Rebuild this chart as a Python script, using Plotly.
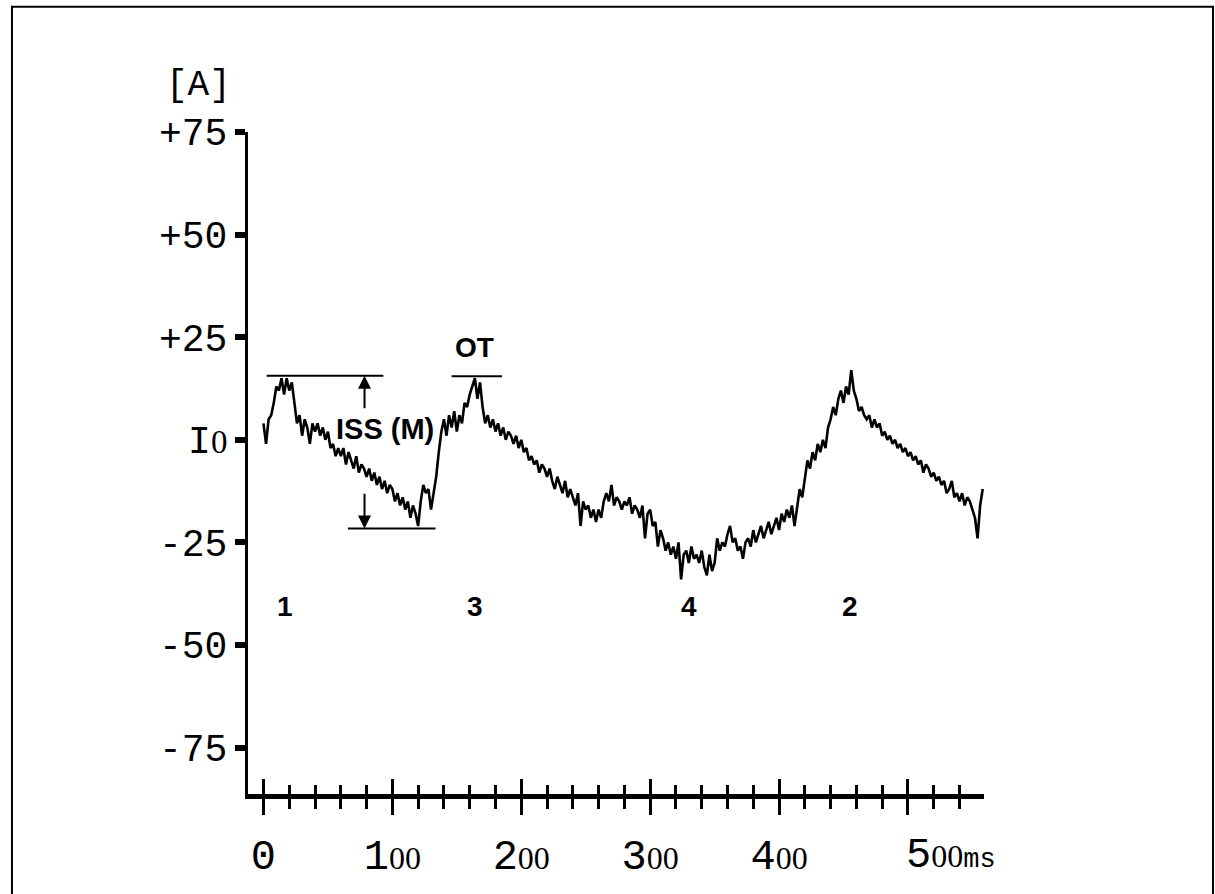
import plotly.graph_objects as go

# ---------------- data ----------------
time_ms = list(range(0, 560, 2))
current_a = [
    4, -1, 5, 6, 9, 13, 12, 15, 11, 15,
    12, 14, 9, 4, 6, 1, 5, 3, -1, 4,
    2, 4, 1, 3, 0, 2, -2, -1, -4, -2,
    -4, -2, -6, -3, -5, -7, -4, -8, -6, -7,
    -9, -7, -10, -8, -11, -9, -12, -10, -13, -11,
    -12, -15, -13, -16, -14, -17, -15, -19, -16, -18,
    -21, -15, -11, -13, -12, -17, -13, -9, -3, 2,
    5, 1, 6, 3, 7, 2, 6, 4, 9, 8,
    11, 13, 15, 10, 14, 8, 4, 6, 3, 5,
    2, 4, 1, 3, 0, 2, 1, -1, 1, -2,
    0, -3, -2, -5, -4, -6, -5, -8, -6, -7,
    -9, -7, -10, -12, -9, -11, -13, -10, -14, -12,
    -14, -16, -13, -21, -15, -17, -16, -19, -17, -20,
    -17, -19, -15, -13, -15, -11, -16, -14, -15, -17,
    -15, -16, -14, -18, -16, -17, -19, -16, -24, -18,
    -17, -21, -20, -26, -22, -24, -27, -25, -28, -26,
    -29, -25, -34, -28, -27, -30, -26, -29, -28, -30,
    -27, -31, -33, -28, -32, -30, -24, -27, -25, -26,
    -23, -21, -25, -24, -27, -26, -29, -25, -24, -26,
    -22, -25, -23, -21, -24, -22, -20, -23, -21, -19,
    -22, -18, -20, -17, -19, -16, -21, -17, -12, -14,
    -9, -5, -7, -3, -5, -1, -3, 0, -2, 3,
    5, 8, 6, 10, 12, 9, 13, 11, 17, 12,
    10, 7, 8, 6, 5, 6, 3, 5, 3, 4,
    1, 2, 0, 1, -1, 0, -2, -1, -3, -2,
    -4, -3, -5, -4, -6, -5, -8, -6, -7, -9,
    -8, -10, -9, -11, -10, -13, -12, -10, -14, -13,
    -15, -13, -16, -14, -15, -17, -19, -24, -16, -12,
]

y_tickvals = [75, 50, 25, 0, -25, -50, -75]
y_ticktext = ["+75", "+50", "+25",
              "I<span style='font-family:Liberation Sans Narrow;font-size:33px'>0</span>",
              "-25", "-50", "-75"]
x_tickvals = [0, 100, 200, 300, 400, 500]
x_big = ["0", "1", "2", "3", "4", "5"]
x_small = ["", "00", "00", "00", "00", "00"]
x_unit = "ms"

# phase markers
phase_labels = ["1", "3", "4", "2"]
phase_times = [17, 164, 330, 455]
phase_level = -40.5

# ISS (M) measurement and OT marker
iss_top_level = 15.6
iss_top_span = [2.5, 93]
iss_bottom_level = -21.6
iss_bottom_span = [65.5, 133.5]
iss_arrow_time = 78.4
iss_arrow_tails = [7.3, -12.8]
iss_label_pos = [94, 2.6]
ot_level = 15.5
ot_span = [146, 185]
ot_label_pos = [164, 22.5]

# ---------------- figure ----------------
MONO = "Liberation Mono"
NARROW = "Liberation Sans Narrow"
small_style = "font-family:%s;font-size:32px" % NARROW

x_ticktext = []
for big, small in zip(x_big, x_small):
    t = big
    if small:
        t += "<span style='%s'>%s</span>" % (small_style, small)
    x_ticktext.append(t)
# last label is drawn with its unit as an annotation (left aligned at its tick)
x_ticktext[-1] = ""

fig = go.Figure()
fig.add_trace(go.Scatter(
    x=time_ms, y=current_a, mode="lines",
    line=dict(color="black", width=2.6),
    hoverinfo="skip", showlegend=False,
))
# helper trace so the overlaying axis (inner half of the crossing ticks) is drawn
fig.add_trace(go.Scatter(
    x=[time_ms[0]], y=[current_a[0]], xaxis="x2", mode="markers",
    marker=dict(opacity=0), hoverinfo="skip", showlegend=False,
))

x_range = [-12, 559]
fig.update_layout(
    width=1215, height=894, autosize=False,
    margin=dict(l=248, r=231, t=132, b=91),
    paper_bgcolor="white", plot_bgcolor="white",
    showlegend=False,
    xaxis=dict(
        range=x_range, showgrid=False, zeroline=False,
        showline=True, linecolor="black", linewidth=5,
        tickmode="array", tickvals=x_tickvals, ticktext=x_ticktext,
        ticks="outside", ticklen=16, tickwidth=2.5, tickcolor="black",
        minor=dict(dtick=20, tick0=0, ticks="outside", ticklen=10,
                   tickwidth=2.5, tickcolor="black", showgrid=False),
        tickfont=dict(family=MONO, size=42, color="black"),
        ticklabelstandoff=4,
    ),
    xaxis2=dict(
        range=x_range, overlaying="x", side="bottom", anchor="y",
        showgrid=False, zeroline=False, showline=False,
        tickmode="array", tickvals=x_tickvals, showticklabels=False,
        ticks="inside", ticklen=15, tickwidth=2.5, tickcolor="black",
        minor=dict(dtick=20, tick0=0, ticks="inside", ticklen=9,
                   tickwidth=2.5, tickcolor="black", showgrid=False),
    ),
    yaxis=dict(
        range=[-86.3, 75], showgrid=False, zeroline=False,
        showline=True, linecolor="black", linewidth=3,
        tickmode="array", tickvals=y_tickvals, ticktext=y_ticktext,
        ticks="outside", ticklen=10, tickwidth=6, tickcolor="black",
        tickfont=dict(family=MONO, size=38, color="black"),
    ),
)

# unit title
fig.add_annotation(
    text="[A]", xref="paper", yref="paper", x=-0.114, y=1.07,
    xanchor="left", yanchor="middle", showarrow=False,
    font=dict(family=MONO, size=36, color="black"),
)
# last x tick label with unit
fig.add_annotation(
    text=x_big[-1] + "<span style='%s'>%s</span><span style='font-family:%s;font-size:27px'>%s</span>"
    % (small_style, x_small[-1], MONO, x_unit),
    xref="x", yref="paper", x=x_tickvals[-1], y=-0.094,
    xanchor="left", yanchor="middle", showarrow=False, xshift=-4,
    font=dict(family=MONO, size=42, color="black"),
)

bold = dict(family="Liberation Sans", size=28, color="black", weight="bold")
for lab, t in zip(phase_labels, phase_times):
    fig.add_annotation(text="<b>%s</b>" % lab, x=t, y=phase_level,
                       showarrow=False, font=bold)
fig.add_annotation(text="<b>ISS (M)</b>", x=iss_label_pos[0], y=iss_label_pos[1],
                   showarrow=False, font=dict(bold, size=29))
fig.add_annotation(text="<b>OT</b>", x=ot_label_pos[0], y=ot_label_pos[1],
                   showarrow=False, font=bold)

for lvl, span in [(iss_top_level, iss_top_span), (iss_bottom_level, iss_bottom_span),
                  (ot_level, ot_span)]:
    fig.add_shape(type="line", xref="x", yref="y", x0=span[0], x1=span[1],
                  y0=lvl, y1=lvl, line=dict(color="black", width=2))

for head, tail in [(iss_top_level, iss_arrow_tails[0]), (iss_bottom_level, iss_arrow_tails[1])]:
    fig.add_annotation(x=iss_arrow_time, y=head, ax=iss_arrow_time, ay=tail,
                       xref="x", yref="y", axref="x", ayref="y", text="",
                       showarrow=True, arrowhead=2, arrowsize=1.3, arrowwidth=2,
                       arrowcolor="black", standoff=0, startstandoff=0)

# outer frame
fig.add_shape(type="rect", xref="paper", yref="paper",
              x0=-0.3207, x1=1.3111, y0=-0.2, y1=1.1893,
              line=dict(color="black", width=2), fillcolor="rgba(0,0,0,0)", layer="below")

fig.write_html("out.html")
